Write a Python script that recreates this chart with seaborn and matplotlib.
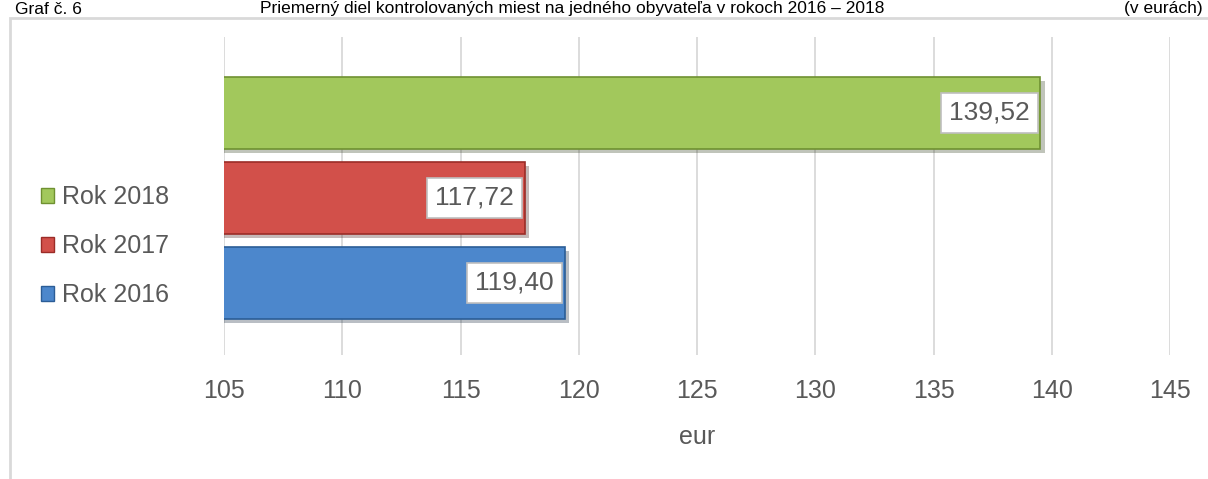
import matplotlib
matplotlib.use("Agg")
import matplotlib.pyplot as plt
import matplotlib.patheffects as pe
from matplotlib.patches import Rectangle, Patch
import seaborn as sns
import pandas as pd

# data
years = ["Rok 2018", "Rok 2017", "Rok 2016"]
values = [139.52, 117.72, 119.40]
colors = ["#A2C85C", "#D2504A", "#4C87CC"]
xticks = [105, 110, 115, 120, 125, 130, 135, 140, 145]

df = pd.DataFrame({"rok": years, "eur": values})

sns.set_style("white")
plt.rcParams["font.family"] = ["Liberation Sans", "DejaVu Sans"]

fig = plt.figure(figsize=(12.08, 4.79), dpi=100)
ax = fig.add_axes([224 / 1208, 1 - 355 / 479, (1170 - 224) / 1208, (355 - 37) / 479])

sns.barplot(data=df, x="eur", y="rok", hue="rok", palette=colors, orient="h",
            width=0.85, dodge=False, legend=False, ax=ax, saturation=1, edgecolor="none")

for bar, c in zip(ax.patches, colors):
    bar.set_path_effects([pe.SimplePatchShadow(offset=(3, -3), alpha=0.3), pe.Normal()])
    bar.set_edgecolor(sns.set_hls_values(c, l=0.38))
    bar.set_linewidth(1.2)

ax.set_xlim(105, 145)
ax.set_ylim(2.85, -0.89)
ax.set_xticks(xticks)
ax.set_xticklabels([str(t) for t in xticks])
ax.set_yticks([])
ax.set_ylabel("")
ax.set_xlabel("eur", fontsize=18, color="#595959", labelpad=16)
ax.tick_params(axis="x", length=0, labelsize=18, labelcolor="#595959", pad=17)
ax.grid(axis="x", color="#d9d9d9", linewidth=1.3)
ax.set_axisbelow(True)
sns.despine(ax=ax, left=True, bottom=True, top=True, right=True)

# value labels in white boxes
for i, v in enumerate(values):
    ax.text(v - 0.45, i, f"{v:.2f}".replace(".", ","), ha="right", va="center",
            fontsize=19, color="#595959",
            bbox=dict(boxstyle="square,pad=0.3", facecolor="white", edgecolor="#bfbfbf", linewidth=1.2))

# legend at left
handles = [Patch(facecolor=c, edgecolor=sns.set_hls_values(c, l=0.38)) for c in colors]
fig.legend(handles, years, loc="center left", bbox_to_anchor=(18 / 1208, 1 - 246 / 479),
           frameon=False, fontsize=18, labelcolor="#595959", handlelength=0.55, handleheight=0.55,
           handletextpad=0.3, labelspacing=1.0)

# chart frame
fig.patches.append(Rectangle((10 / 1208, -0.05), 1.1, 1 - 18 / 479 + 0.05, transform=fig.transFigure,
                             fill=False, edgecolor="#d9d9d9", linewidth=2))

# caption at the top
cap_y = 1 - 13.5 / 479
fig.text(15 / 1208, cap_y, "Graf č. 6", fontsize=12.5, va="baseline", color="black")
fig.text(260 / 1208, cap_y,
         "Priemerný diel kontrolovaných miest na jedného obyvateľa v rokoch 2016 – 2018",
         fontsize=12.5, va="baseline", color="black")
fig.text(1203 / 1208, cap_y, "(v eurách)", fontsize=12.5, va="baseline", ha="right", color="black")

fig.savefig("out.png", dpi=100)
